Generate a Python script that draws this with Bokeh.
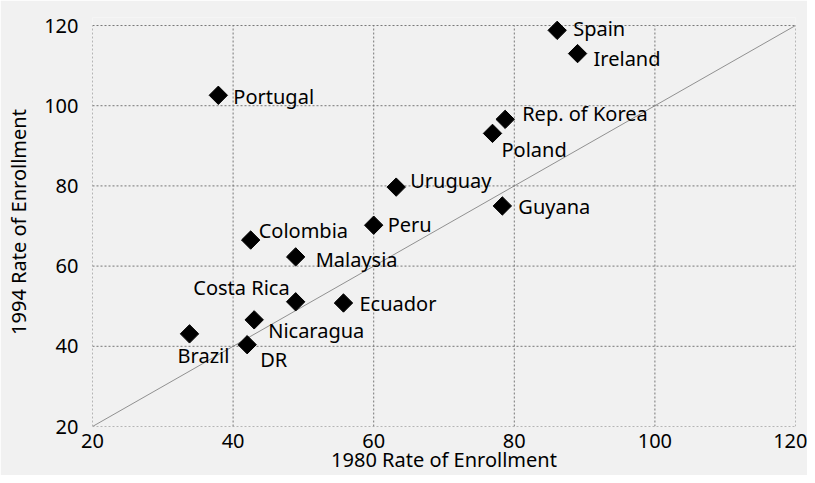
import math
from bokeh.plotting import figure
from bokeh.models import ColumnDataSource, FixedTicker, LabelSet
from bokeh.core.properties import value
from bokeh.embed import file_html
from bokeh.resources import INLINE

countries = ["Portugal", "Spain", "Ireland", "Rep. of Korea", "Poland", "Uruguay",
             "Guyana", "Peru", "Colombia", "Malaysia", "Costa Rica", "Ecuador",
             "Nicaragua", "DR", "Brazil"]
rate_1980 = [37.9, 86.1, 89.0, 78.7, 76.9, 63.2, 78.3, 60.0, 42.5, 48.9, 48.9, 55.7, 43.0, 42.0, 33.8]
rate_1994 = [102.6, 118.8, 113.0, 96.6, 93.1, 79.7, 75.0, 70.2, 66.5, 62.3, 51.1, 50.8, 46.6, 40.4, 43.1]
ticks = [20, 40, 60, 80, 100, 120]
diagonal = [20, 120]

# label placement (screen pixels, dy positive = downward)
label_dx = {"Portugal": 15, "Spain": 16, "Ireland": 16, "Rep. of Korea": 17, "Poland": 9,
            "Uruguay": 14, "Guyana": 16, "Peru": 14, "Colombia": 8, "Malaysia": 20,
            "Costa Rica": -6, "Ecuador": 16, "Nicaragua": 14, "DR": 13, "Brazil": 14}
label_dy = {"Portugal": 1, "Spain": -2, "Ireland": 5, "Rep. of Korea": -6, "Poland": 16,
            "Uruguay": -7, "Guyana": 1, "Peru": -1, "Colombia": -10, "Malaysia": 3,
            "Costa Rica": -14, "Ecuador": 1, "Nicaragua": 11, "DR": 15, "Brazil": 22}
label_align = {"Costa Rica": "right", "Brazil": "center"}

src = ColumnDataSource(dict(
    x=rate_1980, y=rate_1994, name=countries,
    dx=[label_dx[c] for c in countries],
    dy=[-label_dy[c] for c in countries],
    align=[label_align.get(c, "left") for c in countries],
))

FONT = "Noto Sans"
BG = "#f1f1f1"
INK = "#000000"
GRID = "#777777"
lo, hi = ticks[0], ticks[-1]

p = figure(width=807, height=475, x_range=(lo, hi), y_range=(lo, hi + 2),
           output_backend="svg", toolbar_location=None,
           min_border_left=92, min_border_right=12, min_border_top=17, min_border_bottom=48,
           background_fill_color=BG, border_fill_color=BG)
p.outline_line_color = None
p.xgrid.visible = False
p.ygrid.visible = False

for ax in (p.xaxis, p.yaxis):
    ax.ticker = FixedTicker(ticks=ticks)
    ax.axis_line_color = None
    ax.major_tick_line_color = None
    ax.minor_tick_line_color = None
    ax.major_tick_out = 0
    ax.major_tick_in = 0
    ax.major_label_text_font = FONT
    ax.major_label_text_font_size = "20px"
    ax.major_label_text_color = INK
    ax.axis_label_text_font = FONT
    ax.axis_label_text_font_size = "20px"
    ax.axis_label_text_font_style = "normal"
    ax.axis_label_text_color = INK

p.xaxis.axis_label = "1980 Rate of Enrollment"
p.yaxis.axis_label = "1994 Rate of Enrollment"
p.xaxis.major_label_standoff = 7
p.yaxis.major_label_standoff = 14
p.xaxis.axis_label_standoff = -5
p.yaxis.axis_label_standoff = 9

# dotted grid box limited to the tick span
p.segment(x0=[lo] * len(ticks), x1=[hi] * len(ticks), y0=ticks, y1=ticks,
          line_color=GRID, line_dash="2 2", line_width=1)
p.segment(x0=ticks, x1=ticks, y0=[lo] * len(ticks), y1=[hi] * len(ticks),
          line_color=GRID, line_dash="2 2", line_width=1)

p.line(diagonal, diagonal, line_color="#777777", line_width=0.8)

p.scatter("x", "y", source=src, marker="square", angle=math.pi / 4, size=13,
          fill_color="black", line_color="black")

labels = LabelSet(x="x", y="y", text="name", source=src, x_offset="dx", y_offset="dy",
                  text_align="align", text_baseline="middle",
                  text_font=value(FONT), text_font_size="20px", text_color=INK)
p.add_layout(labels)

open("out.html", "w").write(file_html(p, INLINE))
